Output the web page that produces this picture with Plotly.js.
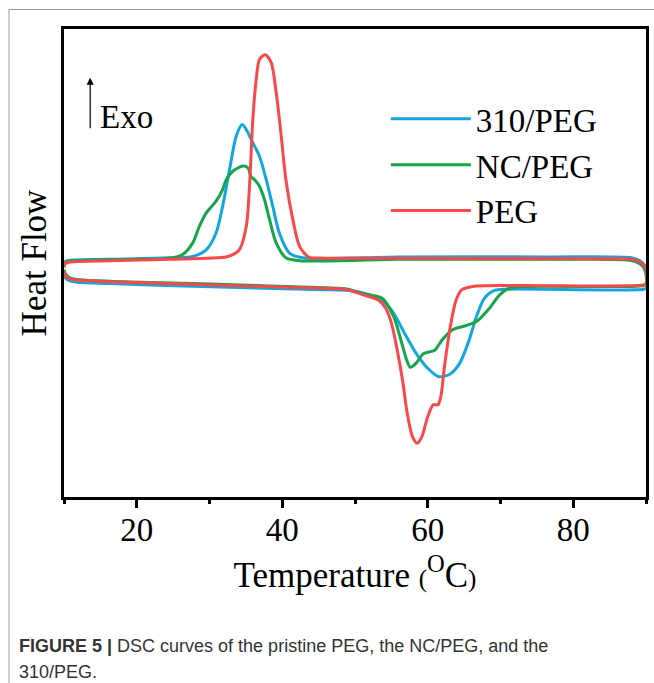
<!DOCTYPE html>
<html><head><meta charset="utf-8">
<script src="https://cdn.plot.ly/plotly-3.0.1.min.js"></script>
<style>html,body{margin:0;padding:0;background:#fff;} #chart{width:654px;height:683px;}</style>
</head><body><div id="chart"></div><script>
// Series names and colours
const seriesNames = ["310/PEG", "NC/PEG", "PEG"];
const seriesColors = ["#12a6dc", "#17a44a", "#f7484b"];

// Each curve: heating scan (10 -> 90 °C, lower branch) then cooling scan (90 -> 10 °C, upper branch)
const temp310 = [10.0,10.2,11.0,16.25,30.24,45.9,49.0,51.1,53.7,55.3,56.8,58.4,60.0,61.5,63.1,64.4,65.7,66.7,67.8,69.1,70.9,89.66,90.07,
  90.14,90.07,89.8,89.1,88.0,76.7,56.1,42.8,41.0,39.6,38.7,37.8,36.87,35.95,35.2,34.5,33.67,32.75,31.8,30.9,29.55,27.7,24.5,16.25,10.76,10.14,10.0];
const hf310 = [47.9,46.8,46.1,45.6,44.9,44.3,44.1,43.6,42.1,39.3,35.0,30.7,27.5,25.7,26.3,28.6,33.6,38.6,42.5,44.1,44.4,44.4,44.7,
  46.4,48.3,49.5,50.5,51.1,51.3,51.3,51.1,52.1,56.4,62.1,67.8,72.8,75.7,78.1,79.6,77.1,69.9,62.1,56.4,52.8,51.4,51.1,50.8,50.6,50.3,49.4];

const tempNC = [10.0,10.2,11.0,16.25,30.24,45.9,49.0,51.1,53.7,55.3,56.3,57.1,57.6,58.4,59.4,60.5,61.0,62.0,63.35,65.2,66.7,68.3,69.9,71.2,74.0,89.66,90.0,
  90.07,89.93,89.5,88.55,87.0,76.7,56.1,42.4,40.5,39.17,38.25,37.56,36.87,36.2,35.7,35.3,34.6,33.2,32.3,31.8,30.9,29.55,28.6,27.7,26.3,24.5,16.25,10.76,10.14,10.0];
const hfNC = [48.6,47.7,46.7,46.1,45.5,44.7,44.4,43.4,42.5,38.6,33.6,29.3,27.7,28.6,30.6,31.1,31.4,33.6,35.7,36.6,37.5,40.0,43.2,44.6,45.0,45.2,45.6,
  46.6,48.1,49.4,50.3,50.7,50.8,50.8,50.5,51.1,54.3,59.3,63.5,66.4,67.8,68.5,70.3,70.7,69.6,67.8,65.7,63.2,60.7,57.8,54.3,51.8,51.0,50.7,50.4,50.1,49.4];

const tempPEG = [10.0,10.2,10.76,12.13,16.25,30.24,45.9,49.0,51.1,53.2,54.2,55.0,55.8,56.6,57.1,57.9,58.55,59.2,60.0,60.75,61.4,61.8,62.3,63.1,63.9,64.7,66.2,71.9,89.66,90.07,
  90.14,90.07,89.8,89.1,88.0,83.6,56.1,45.1,43.7,42.4,41.45,40.5,39.86,39.17,38.48,37.66,36.87,36.42,35.95,35.5,35.05,34.1,33.2,32.3,24.5,16.25,10.76,10.14,10.0];
const hfPEG = [48.1,47.3,46.6,46.3,46.0,45.3,44.6,44.3,43.2,42.1,40.4,37.2,31.4,24.3,18.6,12.9,11.5,12.9,17.2,19.7,19.7,21.5,27.9,36.4,42.1,44.3,45.0,45.2,45.3,45.6,
  46.8,48.3,49.4,50.3,50.8,50.9,51.0,51.05,51.2,53.5,59.3,67.8,77.1,86.4,92.8,94.5,93.5,89.2,80.6,66.4,57.8,52.8,51.8,51.3,50.8,50.5,50.2,49.8,49.0];

const xTickVals = [20, 40, 60, 80];
const xTickText = ["20", "40", "60", "80"];

const captionLines = ["<b>FIGURE 5 |</b> DSC curves of the pristine PEG, the NC/PEG, and the", "310/PEG."];

const seriesT = [temp310, tempNC, tempPEG];
const seriesHF = [hf310, hfNC, hfPEG];

const serif = "Liberation Serif, Times New Roman, serif";
const sans = "Liberation Sans, Arial, sans-serif";

const traces = seriesNames.map((name, i) => ({
  type: "scatter", mode: "lines", name: name,
  x: seriesT[i], y: seriesHF[i],
  line: {color: seriesColors[i], width: 3, shape: "spline", smoothing: 0.8},
  hoverinfo: "skip"
}));

const layout = {
  width: 654, height: 683,
  margin: {l: 64, r: 8, t: 29, b: 186},
  paper_bgcolor: "#fff", plot_bgcolor: "#fff",
  font: {family: serif, color: "#000"},
  showlegend: true,
  legend: {
    x: 0.553, y: 0.868, xanchor: "left", yanchor: "top",
    font: {family: serif, size: 33, color: "#000"},
    bgcolor: "rgba(0,0,0,0)", borderwidth: 0,
    itemwidth: 80, tracegroupgap: 0
  },
  xaxis: {
    range: [10, 90], showgrid: false, zeroline: false,
    showline: true, linewidth: 3, linecolor: "#000", mirror: true,
    tickmode: "array", tickvals: xTickVals, ticktext: xTickText,
    ticks: "outside", ticklen: 8, tickwidth: 3, tickcolor: "#000",
    ticklabelstandoff: -7,
    minor: {dtick: 10, tick0: 0, ticks: "outside", ticklen: 4, tickwidth: 3, tickcolor: "#000", showgrid: false},
    tickfont: {family: serif, size: 33, color: "#000"},
    title: {text: 'Temperature <span style="font-size:25px">(</span><sup>O</sup>C<span style="font-size:25px">)</span>',
      font: {family: serif, size: 35, color: "#000"}, standoff: 16}
  },
  yaxis: {
    range: [0, 100], showgrid: false, zeroline: false,
    showline: true, linewidth: 3, linecolor: "#000", mirror: true,
    showticklabels: false, ticks: "",
    title: {text: "Heat Flow", font: {family: serif, size: 35, color: "#000"}, standoff: 4}
  },
  annotations: [
    {xref: "paper", yref: "paper", x: 0.045, y: 0.896, ax: 0, ay: 52, axref: "pixel", ayref: "pixel",
     text: "", showarrow: true, arrowhead: 2, arrowsize: 1.2, arrowwidth: 1.2, arrowcolor: "#000"},
    {xref: "paper", yref: "paper", x: 0.058, y: 0.811, xanchor: "left", yanchor: "middle",
     text: "Exo", showarrow: false, font: {family: serif, size: 33, color: "#000"}},
    {xref: "paper", yref: "paper", x: -0.081, y: -0.318, xanchor: "left", yanchor: "middle", align: "left",
     text: captionLines[0], showarrow: false, font: {family: sans, size: 18, color: "#333"}},
    {xref: "paper", yref: "paper", x: -0.081, y: -0.374, xanchor: "left", yanchor: "middle", align: "left",
     text: captionLines[1], showarrow: false, font: {family: sans, size: 18, color: "#333"}}
  ],
  shapes: [
    {type: "line", xref: "paper", yref: "paper", x0: -0.0945, x1: 1.2, y0: 1.0417, y1: 1.0417, line: {color: "#9a9a9a", width: 1}},
    {type: "line", xref: "paper", yref: "paper", x0: -0.0945, x1: -0.0945, y0: 1.0417, y1: -0.5, line: {color: "#9a9a9a", width: 1}}
  ]
};

Plotly.newPlot("chart", traces, layout, {staticPlot: true, displayModeBar: false});
</script></body></html>
